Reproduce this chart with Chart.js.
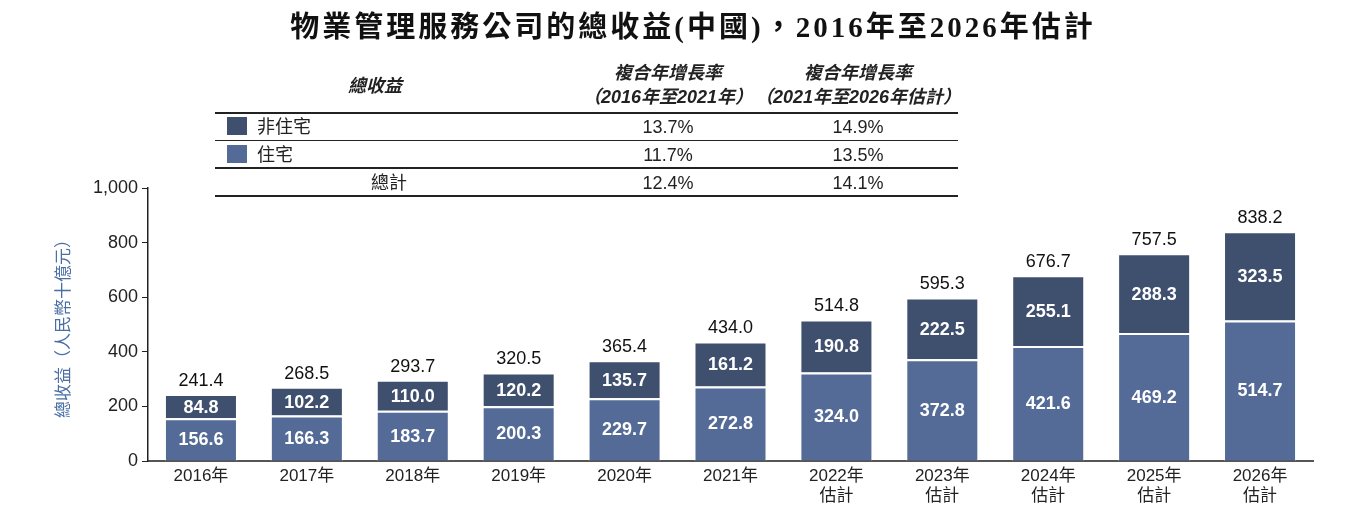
<!DOCTYPE html>
<html>
<head>
<meta charset="utf-8">
<script src="https://cdn.jsdelivr.net/npm/chart.js@4"></script>
<style>
  body { margin: 0; background: #fff; }
  #wrap { position: relative; width: 1346px; height: 522px; overflow: hidden; }
  #title { position: absolute; left: 20px; width: 1346px; top: 3px; text-align: center;
    font-family: "Liberation Serif", "Noto Sans CJK TC", serif; font-weight: bold; font-size: 29px;
    letter-spacing: 3px; color: #111; }
  #tbl { position: absolute; left: 215px; top: 60px; width: 743px;
    font-family: "Liberation Sans", "Noto Sans CJK TC", sans-serif; color: #222; }
  .hdr { position: absolute; font-style: italic; font-weight: bold; font-size: 18px; text-align: center; line-height: 24px; }
  .rule { position: absolute; left: 0; width: 743px; background: #222; }
  .cell { position: absolute; font-size: 18px; line-height: 20px; }
  .sw { position: absolute; width: 20px; height: 18px; }
  canvas { position: absolute; left: 0; top: 0; }
</style>
</head>
<body>
<div id="wrap">
  <canvas id="chart" width="1346" height="522"></canvas>
  <div id="title">物業管理服務公司的總收益(中國)，2016年至2026年估計</div>
  <div id="tbl"></div>
</div>
<script>
// Data
const years = [['2016年'], ['2017年'], ['2018年'], ['2019年'], ['2020年'], ['2021年'],
  ['2022年', '估計'], ['2023年', '估計'], ['2024年', '估計'], ['2025年', '估計'], ['2026年', '估計']];
const nonResidential = [84.8, 102.2, 110.0, 120.2, 135.7, 161.2, 190.8, 222.5, 255.1, 288.3, 323.5];
const residential = [156.6, 166.3, 183.7, 200.3, 229.7, 272.8, 324.0, 372.8, 421.6, 469.2, 514.7];
const totals = [241.4, 268.5, 293.7, 320.5, 365.4, 434.0, 514.8, 595.3, 676.7, 757.5, 838.2];
const yTicks = [0, 200, 400, 600, 800, 1000];

// CAGR table
const tableHeaders = ['總收益', '複合年增長率\n（2016年至2021年）', '複合年增長率\n（2021年至2026年估計）'];
const tableRows = [
  { name: '非住宅', color: '#3f4f6e', a: '13.7%', b: '14.9%' },
  { name: '住宅', color: '#536b96', a: '11.7%', b: '13.5%' },
  { name: '總計', color: null, a: '12.4%', b: '14.1%' }
];

function buildTable() {
  const t = document.getElementById('tbl');
  let html = '';
  html += `<div class="hdr" style="left:60px;width:200px;top:14px;">${tableHeaders[0]}</div>`;
  html += `<div class="hdr" style="left:333px;width:240px;top:1px;">${tableHeaders[1].replace('\n', '<br>')}</div>`;
  html += `<div class="hdr" style="left:513px;width:260px;top:1px;">${tableHeaders[2].replace('\n', '<br>')}</div>`;
  const lines = [[52, 2], [80, 1], [107, 2], [135, 2]];
  lines.forEach(l => { html += `<div class="rule" style="top:${l[0]}px;height:${l[1]}px;"></div>`; });
  tableRows.forEach((r, i) => {
    const top = 57 + i * 28;
    if (r.color) {
      html += `<div class="sw" style="left:12px;top:${top}px;background:${r.color};"></div>`;
      html += `<div class="cell" style="left:42px;top:${top}px;">${r.name}</div>`;
    } else {
      html += `<div class="cell" style="left:156px;top:${top}px;">${r.name}</div>`;
    }
    html += `<div class="cell" style="left:403px;width:100px;text-align:center;top:${top}px;">${r.a}</div>`;
    html += `<div class="cell" style="left:593px;width:100px;text-align:center;top:${top}px;">${r.b}</div>`;
  });
  t.innerHTML = html;
}
buildTable();

// Labels on and above the bars
const barLabels = {
  id: 'barLabels',
  afterDatasetsDraw(chart) {
    const ctx = chart.ctx;
    ctx.save();
    ctx.textAlign = 'center';
    ctx.textBaseline = 'middle';
    chart.data.datasets.forEach((ds, di) => {
      const meta = chart.getDatasetMeta(di);
      meta.data.forEach((bar, i) => {
        const mid = (bar.y + bar.base) / 2;
        ctx.fillStyle = '#fff';
        ctx.font = 'bold 18px "Liberation Sans", Arial, sans-serif';
        ctx.fillText(ds.data[i].toFixed(1), bar.x, mid + 1);
      });
    });
    const top = chart.getDatasetMeta(1);
    ctx.fillStyle = '#111';
    ctx.font = '18px "Liberation Sans", Arial, sans-serif';
    top.data.forEach((bar, i) => {
      ctx.fillText(totals[i].toFixed(1), bar.x, bar.y - 14);
    });
    ctx.restore();
  }
};

new Chart(document.getElementById('chart'), {
  type: 'bar',
  data: {
    labels: years,
    datasets: [
      { label: '住宅', data: residential, backgroundColor: '#536b96',
        borderColor: '#ffffff', borderWidth: { top: 2, left: 1, right: 1 }, borderSkipped: 'bottom',
        categoryPercentage: 1, barPercentage: 0.68 },
      { label: '非住宅', data: nonResidential, backgroundColor: '#3f4f6e',
        borderColor: '#ffffff', borderWidth: { top: 1, left: 1, right: 1 }, borderSkipped: 'bottom',
        categoryPercentage: 1, barPercentage: 0.68 }
    ]
  },
  options: {
    responsive: false,
    animation: false,
    layout: { padding: { top: 188, right: 33, left: 0, bottom: 0 } },
    plugins: { legend: { display: false }, tooltip: { enabled: false }, title: { display: false } },
    scales: {
      x: {
        stacked: true,
        grid: { display: false, drawTicks: false },
        border: { color: '#555', width: 2 },
        ticks: { color: '#222', font: { family: '"Liberation Sans", "Noto Sans CJK TC", sans-serif', size: 17, lineHeight: 1.15 },
          padding: 6, maxRotation: 0 },
        afterFit(scale) { scale.height = 61; }
      },
      y: {
        stacked: true,
        min: 0, max: 1000,
        afterBuildTicks(scale) { scale.ticks = yTicks.map(v => ({ value: v })); },
        grid: { drawOnChartArea: false, drawTicks: true, tickLength: 6, color: '#222' },
        border: { color: '#222', width: 1.5 },
        ticks: { color: '#222', font: { family: '"Liberation Sans", Arial, sans-serif', size: 18 }, padding: 4,
          callback: v => v.toLocaleString('en-US') },
        title: { display: true, text: '總收益（人民幣十億元）', color: '#4a6fa5',
          font: { family: '"Noto Sans CJK TC", sans-serif', size: 17 }, padding: { top: 52, bottom: 0 } },
        afterFit(scale) { scale.width = 148; }
      }
    }
  },
  plugins: [barLabels]
});
</script>
</body>
</html>
